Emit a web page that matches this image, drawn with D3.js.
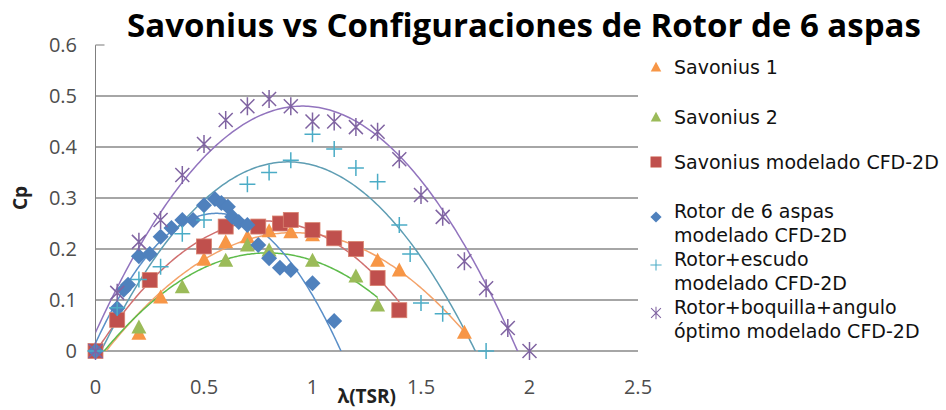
<!DOCTYPE html>
<html>
<head>
<meta charset="utf-8">
<script src="https://cdn.jsdelivr.net/npm/d3@7"></script>
<style>
body { margin:0; background:#fff; }
text { font-family: "Open Sans", "Noto Sans", sans-serif; }
text.leg { font-family: "DejaVu Sans", sans-serif; }
</style>
</head>
<body>
<div id="chart"></div>
<script>
// series names (legend) and point data
var names = ["Savonius 1", "Savonius 2", "Savonius modelado CFD-2D",
  "Rotor de 6 aspas\nmodelado CFD-2D", "Rotor+escudo\nmodelado CFD-2D",
  "Rotor+boquilla+angulo\nóptimo modelado CFD-2D"];

var sav1X = [0, 0.2, 0.3, 0.5, 0.6, 0.7, 0.8, 0.9, 1.0, 1.3, 1.4, 1.7];
var sav1Y = [0, 0.035, 0.106, 0.18, 0.214, 0.224, 0.236, 0.234, 0.228, 0.178, 0.159, 0.037];

var sav2X = [0, 0.2, 0.4, 0.6, 0.7, 0.8, 1.0, 1.2, 1.3];
var sav2Y = [0, 0.047, 0.126, 0.178, 0.208, 0.198, 0.178, 0.147, 0.09];

var savCfdX = [0, 0.1, 0.25, 0.5, 0.6, 0.75, 0.85, 0.9, 1.0, 1.1, 1.2, 1.3, 1.4];
var savCfdY = [0, 0.061, 0.139, 0.205, 0.244, 0.244, 0.25, 0.257, 0.237, 0.221, 0.2, 0.143, 0.08];

var rotorX = [0, 0.1, 0.13, 0.15, 0.2, 0.25, 0.3, 0.35, 0.4, 0.45, 0.5, 0.55, 0.58, 0.61, 0.63, 0.66, 0.7, 0.75, 0.8, 0.85, 0.9, 1.0, 1.1];
var rotorY = [0, 0.084, 0.12, 0.13, 0.186, 0.19, 0.224, 0.241, 0.257, 0.257, 0.286, 0.298, 0.29, 0.283, 0.263, 0.253, 0.247, 0.208, 0.182, 0.163, 0.159, 0.133, 0.059];

var escudoX = [0, 0.1, 0.2, 0.3, 0.4, 0.5, 0.7, 0.8, 0.9, 1.0, 1.1, 1.2, 1.3, 1.4, 1.45, 1.5, 1.6, 1.8];
var escudoY = [0, 0.085, 0.14, 0.165, 0.23, 0.257, 0.327, 0.35, 0.374, 0.425, 0.396, 0.359, 0.332, 0.247, 0.19, 0.094, 0.073, 0];

var boqX = [0, 0.1, 0.2, 0.3, 0.4, 0.5, 0.6, 0.7, 0.8, 0.9, 1.0, 1.1, 1.2, 1.3, 1.4, 1.5, 1.6, 1.7, 1.8, 1.9, 2.0];
var boqY = [0, 0.114, 0.214, 0.257, 0.345, 0.406, 0.453, 0.48, 0.494, 0.48, 0.45, 0.45, 0.439, 0.43, 0.376, 0.306, 0.263, 0.176, 0.123, 0.045, 0];

var xTicks = [0, 0.5, 1, 1.5, 2, 2.5];
var yTicks = [0, 0.1, 0.2, 0.3, 0.4, 0.5, 0.6];

var seriesX = [sav1X, sav2X, savCfdX, rotorX, escudoX, boqX];
var seriesY = [sav1Y, sav2Y, savCfdY, rotorY, escudoY, boqY];
var trendForward = [0, 0, 0, 0.05, 0, 0];

var colors = ["#F79646", "#9BBB59", "#C0504D", "#4F81BD", "#4BACC6", "#8064A2"];
var lineColors = ["#F4A36A", "#5DBB4A", "#D07070", "#5A8FC8", "#5E9DB3", "#9274BE"];
var markers = ["triangle", "triangle", "square", "diamond", "plus", "star"];

var width = 946, height = 410;
var svg = d3.select("#chart").append("svg")
  .attr("width", width).attr("height", height);

var x = d3.scaleLinear().domain([0, 2.5]).range([95.5, 638]);
var y = d3.scaleLinear().domain([0, 0.6]).range([351, 45]);

// gridlines
svg.append("g").selectAll("line")
  .data(yTicks.filter(function(d){ return d < 0.6; }))
  .enter().append("line")
  .attr("x1", x(0)).attr("x2", x(2.5))
  .attr("y1", function(d){ return y(d); })
  .attr("y2", function(d){ return y(d); })
  .attr("stroke", "#A6A6A6").attr("stroke-width", 2);

// y axis line + small top stub
svg.append("line").attr("x1", x(0)).attr("x2", x(0))
  .attr("y1", y(0.6)).attr("y2", y(0)).attr("stroke", "#7F7F7F").attr("stroke-width", 1);
svg.append("line").attr("x1", x(0)).attr("x2", x(0) + 9)
  .attr("y1", y(0.6)).attr("y2", y(0.6)).attr("stroke", "#A6A6A6").attr("stroke-width", 1.5);

// tick labels
svg.append("g").selectAll("text").data(yTicks).enter().append("text")
  .attr("x", 77).attr("y", function(d){ return y(d); })
  .attr("dy", "0.35em").attr("text-anchor", "end")
  .attr("font-size", 20).attr("fill", "#4D4D4D")
  .text(function(d){ return d === 0 ? "0" : d3.format(".1f")(d); });

svg.append("g").selectAll("text").data(xTicks).enter().append("text")
  .attr("x", function(d){ return x(d); }).attr("y", 387)
  .attr("dy", "0.35em").attr("text-anchor", "middle")
  .attr("font-size", 20).attr("fill", "#4D4D4D")
  .text(function(d){ return String(d); });

// axis titles + title
svg.append("text").attr("x", (x(0) + x(2.5)) / 2).attr("y", 396).attr("dy", "0.35em")
  .attr("text-anchor", "middle").attr("font-size", 19).attr("font-weight", "bold")
  .attr("fill", "#222").text("λ(TSR)");
svg.append("text").attr("transform", "translate(20," + y(0.3) + ") rotate(-90)")
  .attr("dy", "0.35em").attr("text-anchor", "middle").attr("font-size", 19)
  .attr("font-weight", "bold").attr("fill", "#222").text("Cp");
svg.append("text").attr("x", 524).attr("y", 37)
  .attr("text-anchor", "middle").attr("font-size", 33).attr("font-weight", "bold")
  .attr("fill", "#000").text("Savonius vs Configuraciones de Rotor de 6 aspas");

// polynomial least squares (order 2), like the spreadsheet trendlines
function polyfit(xs, ys, order){
  var n = order + 1, A = [], b = [];
  for (var i = 0; i < n; i++){
    A.push([]); b.push(0);
    for (var j = 0; j < n; j++){
      var s = 0;
      xs.forEach(function(v){ s += Math.pow(v, i + j); });
      A[i].push(s);
    }
    xs.forEach(function(v, k){ b[i] += ys[k] * Math.pow(v, i); });
  }
  for (var c = 0; c < n; c++){
    var p = c;
    for (var r = c + 1; r < n; r++) if (Math.abs(A[r][c]) > Math.abs(A[p][c])) p = r;
    var t = A[c]; A[c] = A[p]; A[p] = t; var tb = b[c]; b[c] = b[p]; b[p] = tb;
    for (var r2 = c + 1; r2 < n; r2++){
      var f = A[r2][c] / A[c][c];
      for (var k2 = c; k2 < n; k2++) A[r2][k2] -= f * A[c][k2];
      b[r2] -= f * b[c];
    }
  }
  var coef = new Array(n);
  for (var r3 = n - 1; r3 >= 0; r3--){
    var s2 = b[r3];
    for (var k3 = r3 + 1; k3 < n; k3++) s2 -= A[r3][k3] * coef[k3];
    coef[r3] = s2 / A[r3][r3];
  }
  return function(v){ var out = 0; coef.forEach(function(cc, i){ out += cc * Math.pow(v, i); }); return out; };
}

svg.append("clipPath").attr("id", "plotclip").append("rect")
  .attr("x", x(0)).attr("y", y(0.6)).attr("width", x(2.5) - x(0)).attr("height", y(0) - y(0.6));

var line = d3.line().x(function(d){ return x(d[0]); }).y(function(d){ return y(d[1]); });
var trendG = svg.append("g").attr("clip-path", "url(#plotclip)");
seriesX.forEach(function(xs, si){
  var fn = polyfit(xs, seriesY[si], 2);
  var xmax = d3.max(xs) + trendForward[si];
  var pts = d3.range(0, 201).map(function(i){ var v = xmax * i / 200; return [v, fn(v)]; });
  trendG.append("path").attr("d", line(pts)).attr("fill", "none")
    .attr("stroke", lineColors[si]).attr("stroke-width", 1.5);
});

// markers
function drawMarker(g, type, color){
  if (type === "triangle") g.append("path").attr("d", "M0,-7.5L7.5,6.5L-7.5,6.5Z").attr("fill", color);
  if (type === "square") g.append("rect").attr("x", -7.5).attr("y", -7.5).attr("width", 15).attr("height", 15)
    .attr("fill", color).attr("stroke", "#D9826F").attr("stroke-width", 0.8);
  if (type === "diamond") g.append("path").attr("d", "M0,-8L8,0L0,8L-8,0Z").attr("fill", color);
  if (type === "plus") g.append("path").attr("d", "M-8,0H8M0,-8V8").attr("stroke", color).attr("stroke-width", 1.5);
  if (type === "star") g.append("path").attr("d", "M-7,-7L7,7M-7,7L7,-7M0,-9V9").attr("stroke", color).attr("stroke-width", 1.5);
}

seriesX.forEach(function(xs, si){
  var g = svg.append("g");
  xs.forEach(function(v, i){
    var m = g.append("g").attr("transform", "translate(" + x(v) + "," + y(seriesY[si][i]) + ")");
    drawMarker(m, markers[si], colors[si]);
  });
});

// legend
var legY = [67, 117, 162, 211, 259, 307];
names.forEach(function(n, i){
  var lines = n.split("\n");
  var my = lines.length > 1 ? legY[i] + 6 : legY[i];
  var m = svg.append("g").attr("transform", "translate(656," + my + ") scale(0.7)");
  drawMarker(m, markers[i], colors[i]);
  lines.forEach(function(l, j){
    svg.append("text").attr("class", "leg").attr("x", 674).attr("y", legY[i] + j * 24)
      .attr("dy", "0.35em").attr("font-size", 19).attr("fill", "#111").text(l);
  });
});
</script>
</body>
</html>
